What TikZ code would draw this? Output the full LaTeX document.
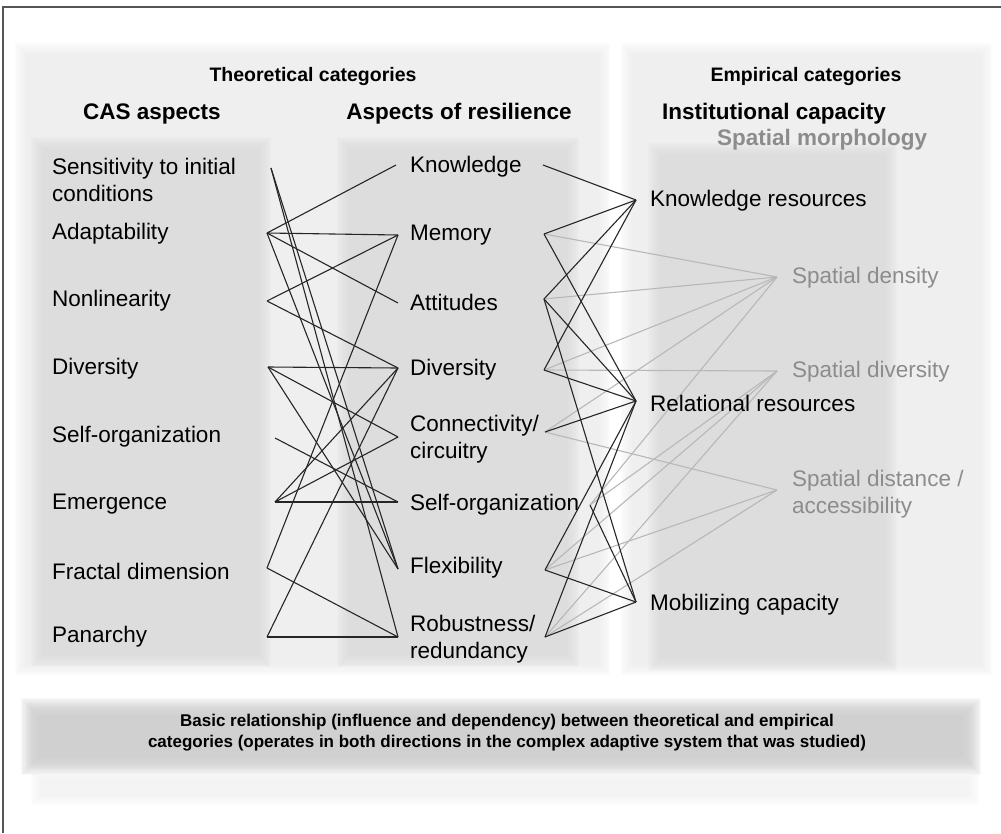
\documentclass[tikz,border=0pt]{standalone}
\usepackage{fontspec}
\setmainfont{Liberation Sans}
\definecolor{panelc}{HTML}{EFEFEF}
\definecolor{colboxc}{HTML}{DDDDDD}
\definecolor{bandc}{HTML}{CFCFCF}
\definecolor{spgray}{HTML}{8C8C8C}
\definecolor{linkc}{HTML}{262626}
\definecolor{glinkc}{HTML}{B8B8B8}
\definecolor{framec}{HTML}{555555}
\newcommand{\softrect}[5]{%
  \foreach \i in {-8,...,8}{\fill[#5,opacity=0.13] ({#1-\i*1.1},{#2-\i*1.1}) rectangle ({#3+\i*1.1},{#4+\i*1.1});}}
\begin{document}
\begin{tikzpicture}[x=1pt,y=-1pt,
  lbl/.style={anchor=west,inner sep=0pt,font=\fontsize{22.5}{26.5}\selectfont,align=left},
  head/.style={inner sep=0pt,font=\bfseries\fontsize{22.5}{26}\selectfont},
  cat/.style={inner sep=0pt,font=\bfseries\fontsize{19.5}{22}\selectfont},
  spat/.style={lbl,text=spgray},
  link/.style={draw=linkc,line width=1.1pt},
  glink/.style={draw=glinkc,line width=1.1pt},
]
\useasboundingbox (0,0) rectangle (1001,833);
\fill[white] (0,0) rectangle (1001,833);
% background panels
\softrect{24}{52}{601}{666}{panelc}
\softrect{630}{52}{983}{666}{panelc}
\softrect{40}{146}{262}{658}{colboxc}
\softrect{346}{146}{570}{658}{colboxc}
\softrect{657}{152}{888}{662}{colboxc}
\softrect{30}{707}{972}{766}{bandc}
\softrect{40}{778}{970}{796}{panelc!70!white}
% frame
\draw[framec,line width=1.5pt] (3,833) -- (3,7) -- (1001,7);
% anchor coordinates
\coordinate (oSens) at (271,168);
\coordinate (oAdapt) at (267,233);
\coordinate (oNonlin) at (267,301);
\coordinate (oDivL) at (268,367);
\coordinate (oSelfL) at (275,438);
\coordinate (oEmerg) at (275,502);
\coordinate (oFrac) at (267,568);
\coordinate (oPan) at (267,637);
\coordinate (iKnowM) at (396,165);
\coordinate (iMem) at (398,235);
\coordinate (iAtt) at (398,303);
\coordinate (iDivM) at (398,368);
\coordinate (iConn) at (398,437);
\coordinate (iSelfM) at (398,502);
\coordinate (iFlex) at (398,569);
\coordinate (iRob) at (398,637);
\coordinate (oKnowM) at (543,165);
\coordinate (oMem) at (544,234);
\coordinate (oAtt) at (544,299);
\coordinate (oDivM) at (544,370);
\coordinate (oConn) at (545,432);
\coordinate (oSelfM) at (590,505);
\coordinate (oFlex) at (545,570);
\coordinate (oRob) at (545,637);
\coordinate (iKR) at (636,200);
\coordinate (iRR) at (636,401);
\coordinate (iMC) at (636,602);
\coordinate (iDens) at (777,277);
\coordinate (iSDiv) at (777,371);
\coordinate (iDist) at (777,490);
% grey links to spatial morphology
\draw[glink] (oMem) -- (iDens);
\draw[glink] (oAtt) -- (iDens);
\draw[glink] (oDivM) -- (iDens);
\draw[glink] (oConn) -- (iDens);
\draw[glink] (oSelfM) -- (iDens);
\draw[glink] (oDivM) -- (iSDiv);
\draw[glink] (oSelfM) -- (iSDiv);
\draw[glink] (oFlex) -- (iSDiv);
\draw[glink] (oRob) -- (iSDiv);
\draw[glink] (oConn) -- (iDist);
\draw[glink] (oFlex) -- (iDist);
\draw[glink] (oRob) -- (iDist);
% CAS aspects -> aspects of resilience
\draw[link] (oSens) -- (iFlex);
\draw[link] (oSens) -- (iRob);
\draw[link] (oAdapt) -- (iKnowM);
\draw[link] (oAdapt) -- (iMem);
\draw[link] (oAdapt) -- (iAtt);
\draw[link] (oAdapt) -- (iFlex);
\draw[link] (oNonlin) -- (iMem);
\draw[link] (oNonlin) -- (iDivM);
\draw[link] (oDivL) -- (iDivM);
\draw[link] (oDivL) -- (iConn);
\draw[link] (oDivL) -- (iFlex);
\draw[link] (oSelfL) -- (iSelfM);
\draw[link] (oEmerg) -- (iSelfM);
\draw[link] (oEmerg) -- (iConn);
\draw[link] (oEmerg) -- (iDivM);
\draw[link] (oFrac) -- (iMem);
\draw[link] (oFrac) -- (iRob);
\draw[link] (oPan) -- (iRob);
\draw[link] (oPan) -- (iDivM);
% aspects of resilience -> institutional capacity
\draw[link] (oKnowM) -- (iKR);
\draw[link] (oMem) -- (iKR);
\draw[link] (oMem) -- (iRR);
\draw[link] (oAtt) -- (iKR);
\draw[link] (oAtt) -- (iRR);
\draw[link] (oAtt) -- (iMC);
\draw[link] (oDivM) -- (iKR);
\draw[link] (oDivM) -- (iRR);
\draw[link] (oConn) -- (iRR);
\draw[link] (oSelfM) -- (iMC);
\draw[link] (oFlex) -- (iRR);
\draw[link] (oFlex) -- (iMC);
\draw[link] (oRob) -- (iRR);
\draw[link] (oRob) -- (iMC);
% headings
\node[cat] (hTheo) at (313,76) {Theoretical categories};
\node[cat] (hEmp) at (806,76) {Empirical categories};
\node[head] (hCAS) at (152,114) {CAS aspects};
\node[head] (hRes) at (459,114) {Aspects of resilience};
\node[head] (hInst) at (774,114) {Institutional capacity};
\node[head,text=spgray] (hSpat) at (822,140) {Spatial morphology};
% CAS aspects
\node[lbl] (cSens) at (52,180) {Sensitivity to initial\\conditions};
\node[lbl] (cAdapt) at (52,234) {Adaptability};
\node[lbl] (cNonlin) at (52,301) {Nonlinearity};
\node[lbl] (cDiv) at (52,369) {Diversity};
\node[lbl] (cSelf) at (52,437) {Self-organization};
\node[lbl] (cEmerg) at (52,504) {Emergence};
\node[lbl] (cFrac) at (52,571) {Fractal dimension};
\node[lbl] (cPan) at (52,637) {Panarchy};
% aspects of resilience
\node[lbl] (rKnow) at (410,167) {Knowledge};
\node[lbl] (rMem) at (410,235) {Memory};
\node[lbl] (rAtt) at (410,302) {Attitudes};
\node[lbl] (rDiv) at (410,370) {Diversity};
\node[lbl] (rConn) at (410,439) {Connectivity/\\circuitry};
\node[lbl] (rSelf) at (410,505) {Self-organization};
\node[lbl] (rFlex) at (410,568) {Flexibility};
\node[lbl] (rRob) at (410,639) {Robustness/\\redundancy};
% institutional capacity
\node[lbl] (iKnow) at (650,201) {Knowledge resources};
\node[lbl] (iRel) at (650,403) {Relational resources};
\node[lbl] (iMob) at (650,605) {Mobilizing capacity};
% spatial morphology
\node[spat] (sDens) at (792,278) {Spatial density};
\node[spat] (sDiv) at (792,372) {Spatial diversity};
\node[spat] (sDist) at (792,494) {Spatial distance /\\accessibility};
% bottom band text
\node[inner sep=0pt,align=center,font=\bfseries\fontsize{17}{21}\selectfont] (bottomText) at (507,733)
  {Basic relationship (influence and dependency) between theoretical and empirical\\categories (operates in both directions in the complex adaptive system that was studied)};
\end{tikzpicture}
\end{document}
